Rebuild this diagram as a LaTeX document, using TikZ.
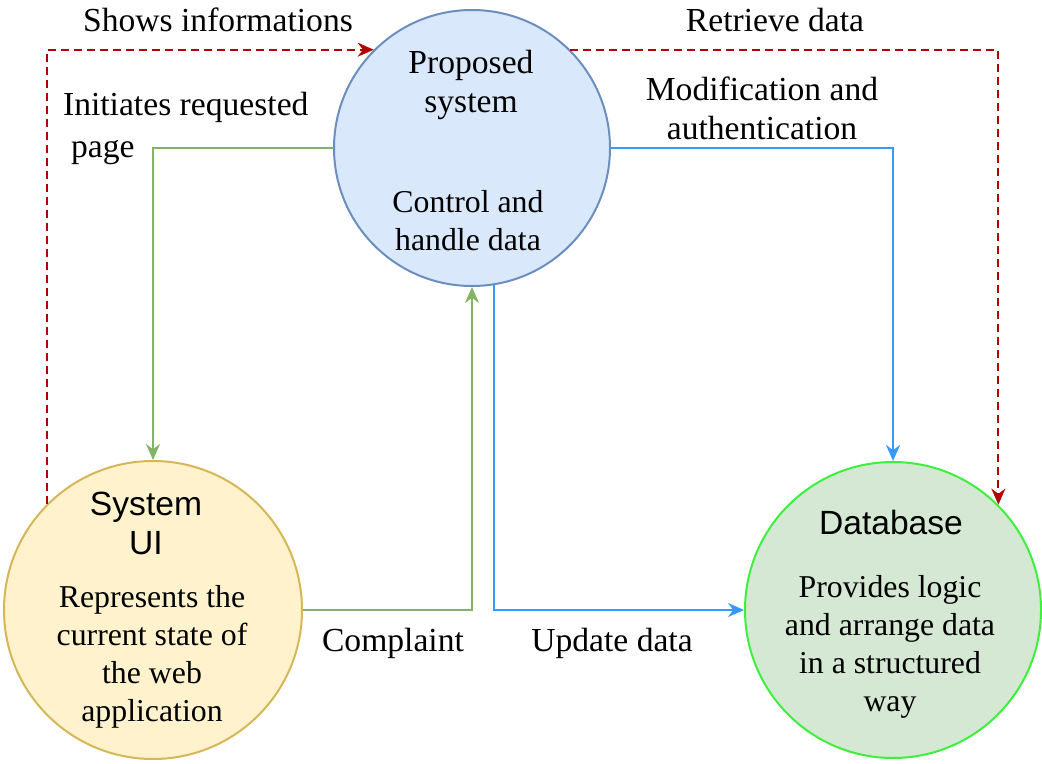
\documentclass[tikz,border=0pt]{standalone}
\usepackage{fontspec}
\setmainfont{Liberation Serif}
\setsansfont{Liberation Sans}
\usepackage{tikz}
\usetikzlibrary{arrows.meta,positioning}

\definecolor{psfill}{HTML}{DAE8FC}
\definecolor{psline}{HTML}{6C8EBF}
\definecolor{uifill}{HTML}{FFF2CC}
\definecolor{uiline}{HTML}{D6B656}
\definecolor{dbfill}{HTML}{D5E8D4}
\definecolor{dbline}{HTML}{3CF03C}
\definecolor{redflow}{HTML}{B20000}
\definecolor{greenflow}{HTML}{82B366}
\definecolor{blueflow}{HTML}{3399FF}

\begin{document}
\begin{tikzpicture}[%
>={Stealth[length=8pt,width=7pt]},
x=0.5pt, y=-0.5pt,
every node/.style={font=\fontsize{16.8}{19.5}\selectfont, align=center},
bubble/.style={circle, draw, line width=1pt, inner sep=0pt},
title/.style={font=\fontsize{16.8}{19.5}\selectfont\sffamily},
desc/.style={font=\fontsize{15.9}{19}\selectfont},
flow/.style={->, line width=1pt},
info/.style={flow, redflow, dash pattern=on 4pt off 2.5pt}
]
\useasboundingbox (0,0) rectangle (1042,764);

\node[bubble, fill=psfill, draw=psline, minimum size=138pt] (ps) at (472,148) {};
\node[bubble, fill=uifill, draw=uiline, minimum size=149pt] (ui) at (153,610) {};
\node[bubble, fill=dbfill, draw=dbline, minimum size=148pt] (db) at (893,610) {};

% texts inside the circles
\node (ps title) at (471,85) {Proposed\\system};
\node[desc] (ps text) at (468,221) {Control and\\handle data};
\node[title] (ui title) at (146,523) {System\\UI};
\node[desc] (ui text) at (152,657) {Represents the\\current state of\\the web\\application};
\node[title] (db title) at (891,522) {Database};
\node[desc] (db text) at (890,647) {Provides logic\\and arrange data\\in a structured\\way};

% flows
\draw[info] (ui.north west) |- (ps.north west);
\draw[info] (ps.north east) -| (db.north east);
\draw[flow, greenflow] (ps.west) -| (ui.north);
\draw[flow, greenflow] (ui.east) -| (ps.south);
\draw[flow, blueflow] (ps.east) -| (db.north);
\draw[flow, blueflow] (ps.-81) |- (db.west);

% labels
\node (l1) at (218,20) {Shows informations};
\node (l2) at (775,20) {Retrieve data};
\node[anchor=west, align=left, font=\fontsize{16.8}{21}\selectfont] (l3) at (56,128) {Initiates requested\\\hspace*{4pt}page};
\node (l4) at (762,108) {Modification and\\authentication};
\node (l5) at (393,643) {Complaint};
\node (l6) at (612,643) {Update data};
\end{tikzpicture}
\end{document}
